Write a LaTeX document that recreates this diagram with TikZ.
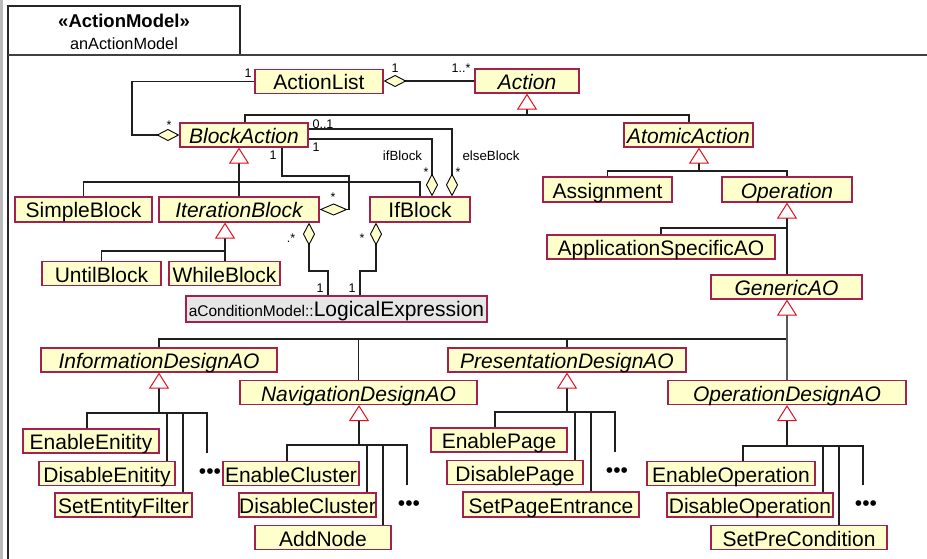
\documentclass[tikz,border=0pt]{standalone}
\usepackage{fontspec}
\setmainfont{Liberation Sans}
\usetikzlibrary{arrows.meta}

\definecolor{clsfill}{HTML}{FFFFCC}
\definecolor{clsedge}{HTML}{A3204F}
\definecolor{genred}{HTML}{E0101E}
\definecolor{refill}{HTML}{E6E6E6}

% class box from its corners: style, name, x1, y1, x2, y2, text
\newcommand\classbox[7]{%
  \node[#1, minimum width={(#5-#3)*1pt}, minimum height={(#6-#4)*1pt}]
    (#2) at ({(#3+#5)/2},{(#4+#6)/2}) {#7};}

\tikzset{
  x=1pt, y=-1pt,
  cls/.style={draw=clsedge, fill=clsfill, line width=1.2pt, inner sep=0pt,
    text height=20.5pt, text depth=3.5pt, font=\fontsize{21}{24}\selectfont},
  abs/.style={cls, font=\fontsize{21}{24}\selectfont\itshape},
  refcls/.style={cls, fill=refill, text height=20pt, text depth=6pt},
  conn/.style={draw=black!88, line width=1.1pt},
  gen/.style={conn, -{Triangle[length=16pt, width=20pt, color=genred, fill=white, line width=1pt]}},
  agg/.style={conn, -{Diamond[length=23pt, width=12pt, color=black, fill=clsfill, line width=0.9pt]}},
  mult/.style={font=\fontsize{12.5}{13}\selectfont, inner sep=0pt, anchor=base},
  role/.style={font=\fontsize{13.3}{14}\selectfont, inner sep=0pt, anchor=base},
  more/.style={font=\fontsize{21}{24}\selectfont, inner sep=0pt, anchor=base},
}

\begin{document}
\begin{tikzpicture}
\useasboundingbox (0,0) rectangle (927,559);
\fill[white] (0,0) rectangle (927,559);

% window edge
\fill[gray!55] (0,0) rectangle (3,559);

% package frame and tab
\draw[line width=1.3pt, black!85] (8,559) -- (8,6) -- (240,6) -- (240,55);
\draw[line width=1.6pt, black!75] (8,55) -- (927,55);
\node[inner sep=0pt, anchor=base, font=\fontsize{18.5}{20}\selectfont\bfseries] (pkgname) at (124,28) {«ActionModel»};
\node[inner sep=0pt, anchor=base, font=\fontsize{16.3}{18}\selectfont] (pkgmodel) at (124,50) {anActionModel};

% classes
\classbox{cls}{ActionList}{255}{70}{383}{93}{ActionList}
\classbox{abs}{Action}{475}{69}{579}{93}{Action}
\classbox{abs}{BlockAction}{180}{123}{308}{147}{BlockAction}
\classbox{abs}{AtomicAction}{624}{123}{753}{147}{AtomicAction}
\classbox{cls}{SimpleBlock}{15}{197}{152}{222}{SimpleBlock}
\classbox{abs}{IterationBlock}{159}{197}{319}{222}{IterationBlock}
\classbox{cls}{IfBlock}{370}{197}{470}{222}{IfBlock}
\classbox{cls}{UntilBlock}{42}{262}{161}{285}{UntilBlock}
\classbox{cls}{WhileBlock}{169}{262}{280}{285}{WhileBlock}
\classbox{refcls}{LogicalExpression}{186}{296}{487}{322}{{\fontsize{15.5}{16}\selectfont aConditionModel::}LogicalExpression}
\classbox{cls}{Assignment}{543}{177}{672}{202}{Assignment}
\classbox{abs}{Operation}{722}{177}{852}{202}{Operation}
\classbox{cls}{ApplicationSpecificAO}{547}{235}{775}{259}{ApplicationSpecificAO}
\classbox{abs}{GenericAO}{711}{275}{862}{299}{GenericAO}
\classbox{abs}{InformationDesignAO}{41}{348}{277}{372}{InformationDesignAO}
\classbox{abs}{NavigationDesignAO}{240}{381}{477}{404}{NavigationDesignAO}
\classbox{abs}{PresentationDesignAO}{448}{348}{686}{372}{PresentationDesignAO}
\classbox{abs}{OperationDesignAO}{668}{381}{906}{404}{OperationDesignAO}
\classbox{cls}{EnableEnitity}{23}{429}{159}{453}{EnableEnitity}
\classbox{cls}{DisableEnitity}{39}{462}{175}{485}{DisableEnitity}
\classbox{cls}{SetEntityFilter}{55}{493}{192}{517}{SetEntityFilter}
\classbox{cls}{EnableCluster}{223}{462}{359}{485}{EnableCluster}
\classbox{cls}{DisableCluster}{239}{493}{376}{517}{DisableCluster}
\classbox{cls}{AddNode}{255}{526}{391}{549}{AddNode}
\classbox{cls}{EnablePage}{431}{428}{567}{452}{EnablePage}
\classbox{cls}{DisablePage}{447}{461}{583}{484}{DisablePage}
\classbox{cls}{SetPageEntrance}{463}{492}{639}{517}{SetPageEntrance}
\classbox{cls}{EnableOperation}{647}{462}{815}{485}{EnableOperation}
\classbox{cls}{DisableOperation}{667}{493}{833}{517}{DisableOperation}
\classbox{cls}{SetPreCondition}{711}{526}{887}{549}{SetPreCondition}

% ---- generalizations ----
% Action
\coordinate (jAction) at (527,115);
\coordinate (bBlock) at (245,115);
\coordinate (bAtomic) at (689,115);
\draw[conn] (bBlock |- BlockAction.north) -- (bBlock) -- (bAtomic) -- (bAtomic |- AtomicAction.north);
\draw[gen] (jAction) -- (jAction |- Action.south);

% BlockAction
\coordinate (jBlock) at (239,182);
\draw[conn] (SimpleBlock.north) |- (jBlock) -| (IfBlock.north);
\draw[conn] (jBlock) -- (jBlock |- IterationBlock.north);
\draw[gen] (jBlock) -- (jBlock |- BlockAction.south);

% IterationBlock
\coordinate (jIter) at (225,251);
\draw[conn] (UntilBlock.north) |- (jIter) -- (jIter |- WhileBlock.north);
\draw[gen] (jIter) -- (jIter |- IterationBlock.south);

% AtomicAction
\coordinate (jAtomic) at (699,171);
\draw[conn] (Assignment.north) |- (jAtomic) -| (Operation.north);
\draw[gen] (jAtomic) -- (jAtomic |- AtomicAction.south);

% Operation
\coordinate (jOper) at (787,228);
\draw[conn] (ApplicationSpecificAO.north) |- (jOper) -- (jOper |- GenericAO.north);
\draw[gen] (jOper) -- (jOper |- Operation.south);

% GenericAO
\coordinate (jGeneric) at (787,339);
\draw[conn] (InformationDesignAO.north) |- (jGeneric);
\draw[conn, draw=black!65] (jGeneric) -- (jGeneric |- OperationDesignAO.north);
\draw[conn] (NavigationDesignAO.north) -- (NavigationDesignAO.north |- jGeneric);
\draw[conn] (PresentationDesignAO.north) -- (PresentationDesignAO.north |- jGeneric);
\draw[gen, draw=black!65] (jGeneric) -- (jGeneric |- GenericAO.south);

% InformationDesignAO
\coordinate (jInfo) at (159,413);
\coordinate (iA) at (87,413);
\coordinate (iB) at (167,413);
\coordinate (iC) at (183,413);
\coordinate (iD) at (207,413);
\coordinate (iEnd) at (207,453);
\draw[conn] (iA |- EnableEnitity.north) -- (iA) -- (iD) -- (iEnd);
\draw[conn] (iB) -- (iB |- DisableEnitity.north);
\draw[conn] (iC) -- (iC |- SetEntityFilter.north);
\draw[gen] (jInfo) -- (jInfo |- InformationDesignAO.south);
\node[more] (infoMore) at (210,478.5) {•••};

% NavigationDesignAO
\coordinate (jNav) at (359,445);
\coordinate (nA) at (287,445);
\coordinate (nB) at (367,445);
\coordinate (nC) at (383,445);
\coordinate (nD) at (407,445);
\coordinate (nEnd) at (407,485);
\draw[conn] (nA |- EnableCluster.north) -- (nA) -- (nD) -- (nEnd);
\draw[conn] (nB) -- (nB |- DisableCluster.north);
\draw[conn] (nC) -- (nC |- AddNode.north);
\draw[gen] (jNav) -- (jNav |- NavigationDesignAO.south);
\node[more] (navMore) at (409,510.5) {•••};

% PresentationDesignAO
\coordinate (jPres) at (567,412);
\coordinate (pA) at (495,412);
\coordinate (pB) at (575,412);
\coordinate (pC) at (591,412);
\coordinate (pD) at (615,412);
\coordinate (pEnd) at (615,452);
\draw[conn] (pA |- EnablePage.north) -- (pA) -- (pD) -- (pEnd);
\draw[conn] (pB) -- (pB |- DisablePage.north);
\draw[conn] (pC) -- (pC |- SetPageEntrance.north);
\draw[gen] (jPres) -- (jPres |- PresentationDesignAO.south);
\node[more] (presMore) at (617,477.5) {•••};

% OperationDesignAO
\coordinate (jOpD) at (787,446);
\coordinate (oA) at (743,446);
\coordinate (oB) at (823,446);
\coordinate (oC) at (839,446);
\coordinate (oD) at (863,446);
\coordinate (oEnd) at (863,485);
\draw[conn] (oA |- EnableOperation.north) -- (oA) -- (oD) -- (oEnd);
\draw[conn] (oB) -- (oB |- DisableOperation.north);
\draw[conn] (oC) -- (oC |- SetPreCondition.north);
\draw[gen] (jOpD) -- (jOpD |- OperationDesignAO.south);
\node[more] (opdMore) at (866,510.5) {•••};

% ---- aggregations ----
\draw[agg] (Action.west) -- (Action.west -| ActionList.east);
\coordinate (cList) at (132,81);
\draw[agg] (ActionList.west) -- (ActionList.west -| cList) |- (BlockAction.west);

\coordinate (cElse) at (452,129);
\draw[agg] (BlockAction.east |- cElse) -- (cElse) -- (cElse |- IfBlock.north);
\coordinate (cIf) at (432,139);
\draw[agg] (BlockAction.east |- cIf) -- (cIf) -- (cIf |- IfBlock.north);

\coordinate (cB1) at (282,176);
\coordinate (cB2) at (349,176);
\draw[conn, -{Diamond[length=28pt, width=12pt, color=black, fill=clsfill, line width=0.9pt]}]
  (cB1 |- BlockAction.south) -- (cB1) -- (cB2) -- (cB2 |- IterationBlock.east) -- (IterationBlock.east);

\coordinate (cI1) at (309,271);
\coordinate (cI2) at (328,271);
\draw[agg] (cI2 |- LogicalExpression.north) -- (cI2) -- (cI1) -- (cI1 |- IterationBlock.south);
\coordinate (cF1) at (376,271);
\coordinate (cF2) at (360,271);
\draw[agg] (cF2 |- LogicalExpression.north) -- (cF2) -- (cF1) -- (cF1 |- IfBlock.south);

% ---- multiplicities and roles ----
\node[mult] (mListBlock) at (248,78) {1};
\node[mult] (mBlockList) at (169,130) {*};
\node[mult] (mListOwn) at (395,73) {1};
\node[mult] (mListAction) at (461,73) {1..*};
\node[mult] (mElseOwner) at (323,128.5) {0..1};
\node[mult] (mIfOwner) at (316,152) {1};
\node[mult] (mBodyOwner) at (273,160) {1};
\node[role] (rIf) at (402.5,160.5) {ifBlock};
\node[role] (rElse) at (491,160.5) {elseBlock};
\node[mult] (mIfBlock) at (426,177) {*};
\node[mult] (mElseBlock) at (458,177) {*};
\node[mult] (mIterBody) at (333,202) {*};
\node[mult] (mIterCond) at (291,242) {.*};
\node[mult] (mIfCond) at (362,242) {*};
\node[mult] (mCondIter) at (320,292.5) {1};
\node[mult] (mCondIf) at (352,292.5) {1};
\end{tikzpicture}
\end{document}
